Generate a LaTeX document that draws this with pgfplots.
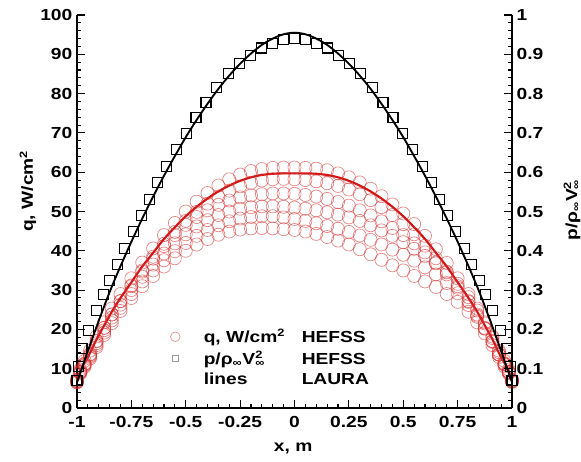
\documentclass[border=0pt]{standalone}
\usepackage{pgfplots}
\pgfplotsset{compat=1.18}
\usepackage{pgfplotstable}
\usepackage{fontspec}
\setmainfont{Liberation Sans}[FakeStretch=1.2]
\definecolor{circ}{RGB}{215,45,45}
\definecolor{qline}{RGB}{210,20,20}

\pgfplotstableread{
x L s1 s2 s3 s4 s5 s6
-1 7 7.2 6.8 7 6.8 6.6 6.5
-0.985 9.5 9.8 9.2 9.4 9.2 9 8.8
-0.965 11.5 12 11.2 11.3 11 10.8 10.5
-0.94 14 14.6 13.6 13.7 13.3 13 12.6
-0.91 17.5 18.2 17 17.1 16.5 16 15.5
-0.875 21 21.8 20.4 20.4 19.8 19.2 18.6
-0.84 24.5 25.3 23.8 23.8 23 22.3 21.6
-0.8 28 29 27.2 27.2 26.3 25.5 24.7
-0.75 32 33 31.2 31 30 29 28
-0.7 36 37 35 34.7 33.4 32.2 31
-0.65 39.5 40.6 38.5 38 36.5 35 33.6
-0.6 43 44 41.8 41.2 39.3 37.6 36
-0.55 46 47.1 44.8 44 41.9 39.9 38.1
-0.5 48.8 50 47.6 46.6 44.2 42 40
-0.45 51.2 52.5 49.9 48.6 46.2 43.8 41.6
-0.4 53.3 54.7 52 50.3 47.8 45.3 43
-0.35 55.1 56.6 53.8 51.7 49.1 46.5 44.1
-0.3 56.6 58.2 55.3 52.8 50 47.5 44.9
-0.25 57.8 59.4 56.4 53.6 50.7 48.2 45.4
-0.2 58.7 60.3 57.3 54.1 51.1 48.6 45.7
-0.15 59.3 60.8 57.9 54.4 51.3 48.8 45.8
-0.1 59.6 61.1 58.2 54.6 51.3 48.8 45.7
-0.05 59.7 61.2 58.3 54.6 51.2 48.5 45.5
0 59.7 61.2 58.2 54.5 51 48.1 45.3
0.05 59.7 61.1 58 54.2 50.7 47.6 44.9
0.1 59.6 60.9 57.7 53.8 50.3 47 44.3
0.15 59.3 60.5 57.2 53.2 49.8 46.3 43.5
0.2 58.7 59.7 56.5 52.4 49.2 45.6 42.6
0.25 57.8 58.7 55.6 51.5 48.5 44.8 41.6
0.3 56.6 57.4 54.4 50.3 47.6 43.9 40.4
0.35 55.1 55.8 52.9 49 46.5 42.8 39.1
0.4 53.3 53.9 51.1 47.5 45.2 41.6 37.7
0.45 51.2 51.8 49.1 45.8 43.8 40.3 36.3
0.5 48.8 49.5 46.8 44 42.2 39 35
0.55 46 46.8 44.2 41.9 40.5 37.5 33.6
0.6 43 43.8 41.3 39.6 38.7 35.8 32.2
0.65 39.5 40.4 38.1 37 36.8 34 30.8
0.7 36 36.9 34.7 34 34.5 31.8 29
0.75 32 33 31 30.6 31.6 29.2 27
0.8 28 29 27.2 27 28.2 26.2 24.5
0.84 24.5 25.3 23.8 23.5 24.8 23.2 21.8
0.875 21 21.8 20.4 20.2 21.5 20.2 19
0.91 17.5 18.2 17 17 17.8 16.8 16
0.94 14 14.6 13.6 13.6 14.2 13.6 13
0.965 11.5 12 11.2 11.2 11.4 11 10.6
0.985 9.5 9.8 9.2 9.3 9.2 9 8.8
1 7 7.2 6.8 7 7 6.8 6.6
}\qdata

\pgfplotstableread{
x p
-1 0.065
-0.975 0.105
-0.95 0.145
-0.9 0.222
-0.85 0.295
-0.8 0.361
-0.75 0.423
-0.7 0.482
-0.65 0.538
-0.6 0.591
-0.55 0.641
-0.5 0.689
-0.45 0.733
-0.4 0.774
-0.35 0.812
-0.3 0.846
-0.25 0.876
-0.2 0.902
-0.15 0.924
-0.1 0.94
-0.05 0.951
0 0.955
0.05 0.951
0.1 0.94
0.15 0.924
0.2 0.902
0.25 0.876
0.3 0.846
0.35 0.812
0.4 0.774
0.45 0.733
0.5 0.689
0.55 0.641
0.6 0.591
0.65 0.538
0.7 0.482
0.75 0.423
0.8 0.361
0.85 0.295
0.9 0.222
0.95 0.145
0.975 0.105
1 0.065
}\pline

\pgfplotstableread{
x p
-1 0.07
-0.993 0.105
-0.977 0.152
-0.948 0.198
-0.91 0.247
-0.879 0.288
-0.849 0.325
-0.815 0.364
-0.78 0.406
-0.742 0.449
-0.704 0.489
-0.668 0.531
-0.628 0.574
-0.588 0.614
-0.543 0.657
-0.498 0.699
-0.453 0.74
-0.407 0.778
-0.358 0.815
-0.305 0.85
-0.255 0.876
-0.203 0.898
-0.152 0.916
-0.101 0.928
-0.05 0.937
0 0.941
0.05 0.937
0.101 0.928
0.152 0.916
0.203 0.898
0.255 0.876
0.305 0.85
0.358 0.815
0.407 0.778
0.453 0.74
0.498 0.699
0.543 0.657
0.588 0.614
0.628 0.574
0.668 0.531
0.704 0.489
0.742 0.449
0.78 0.406
0.815 0.364
0.849 0.325
0.879 0.288
0.91 0.247
0.948 0.198
0.977 0.152
0.993 0.105
1 0.07
}\psq

\pgfplotsset{
  common/.style={
    scale only axis, width=326.25pt, height=294.75pt,
    xmin=-1, xmax=1, clip=false,
    tick align=inside, major tick length=6pt, minor tick length=3pt,
    every tick/.style={black, line width=0.8pt},
    axis line style={-, line width=0.9pt},
    tick label style={font=\fontsize{12}{14}\selectfont\bfseries},
    label style={font=\fontsize{12}{14}\selectfont\bfseries},
    /pgf/number format/assume math mode=true,
  },
  circs/.style={only marks, mark=o, mark size=4.9pt, circ, draw opacity=0.6, mark options={line width=0.5pt}, forget plot},
}

\begin{document}
\begin{tikzpicture}
\begin{axis}[common,
  axis x line*=bottom, axis y line*=left,
  ymin=0, ymax=100, ytick={0,10,...,100}, minor y tick num=4,
  xtick={-1,-0.75,-0.5,-0.25,0,0.25,0.5,0.75,1},
  xticklabels={-1,-0.75,-0.5,-0.25,0,0.25,0.5,0.75,1},
  xticklabel style={yshift=-2.5pt},
  minor x tick num=4,
  xlabel={x, m},
  xlabel style={at={(axis description cs:0.497,-0.102)}, anchor=center},
  ylabel={q, W/cm\textsuperscript{2}},
  ylabel style={at={(axis description cs:-0.113,0.552)}, anchor=center},
  legend style={at={(axis description cs:0.19,0.215)}, anchor=north west,
    draw=none, fill=none, font=\fontsize{12}{14}\selectfont\bfseries,
    row sep=1pt},
  legend cell align=left,
]
\addplot[circs] table[x=x, y=s6] {\qdata};
\addplot[circs] table[x=x, y=s5] {\qdata};
\addplot[circs] table[x=x, y=s4] {\qdata};
\addplot[circs] table[x=x, y=s3] {\qdata};
\addplot[circs] table[x=x, y=s2] {\qdata};
\addplot[circs] table[x=x, y=s1] {\qdata};
\addplot[qline, line width=1.6pt, smooth, forget plot] table[x=x, y=L] {\qdata};
\addlegendimage{legend image code/.code={\draw[circ!55, line width=0.5pt] (0.3cm,0cm) circle (3.6pt);}}
\addlegendentry{\hspace*{15.5pt}\makebox[73.5pt][l]{q, W/cm\textsuperscript{2}}HEFSS}
\addlegendimage{legend image code/.code={\draw[black!40, line width=0.4pt] (0.3cm-2.3pt,-2.3pt) rectangle (0.3cm+2.3pt,2.3pt);}}
\addlegendentry{\hspace*{15.5pt}\makebox[73.5pt][l]{p/ρ\textsubscript{∞}V\rlap{\textsuperscript{2}}\textsubscript{∞}}HEFSS}
\addlegendimage{legend image code/.code={}}
\addlegendentry{\hspace*{15.5pt}\makebox[73.5pt][l]{lines}LAURA}
\end{axis}
\begin{axis}[common,
  axis y line*=right, axis x line=none,
  ymin=0, ymax=1, ytick={0,0.1,...,1}, minor y tick num=4,
  yticklabels={0,0.1,0.2,0.3,0.4,0.5,0.6,0.7,0.8,0.9,1},
  ylabel={p/ρ\textsubscript{∞}V\rlap{\textsuperscript{2}}\textsubscript{∞}},
  ylabel style={at={(axis description cs:1.138,0.504)}, anchor=center},
]
\addplot[only marks, mark=square, mark size=3.75pt, black, mark options={line width=0.8pt}] table[x=x, y=p] {\psq};
\addplot[black, line width=1.4pt, smooth] table[x=x, y=p] {\pline};
\end{axis}
\pgfresetboundingbox
\path[use as bounding box] (-57.75pt,-39.75pt) rectangle ++(435.75pt,345.75pt);
\end{tikzpicture}
\end{document}
